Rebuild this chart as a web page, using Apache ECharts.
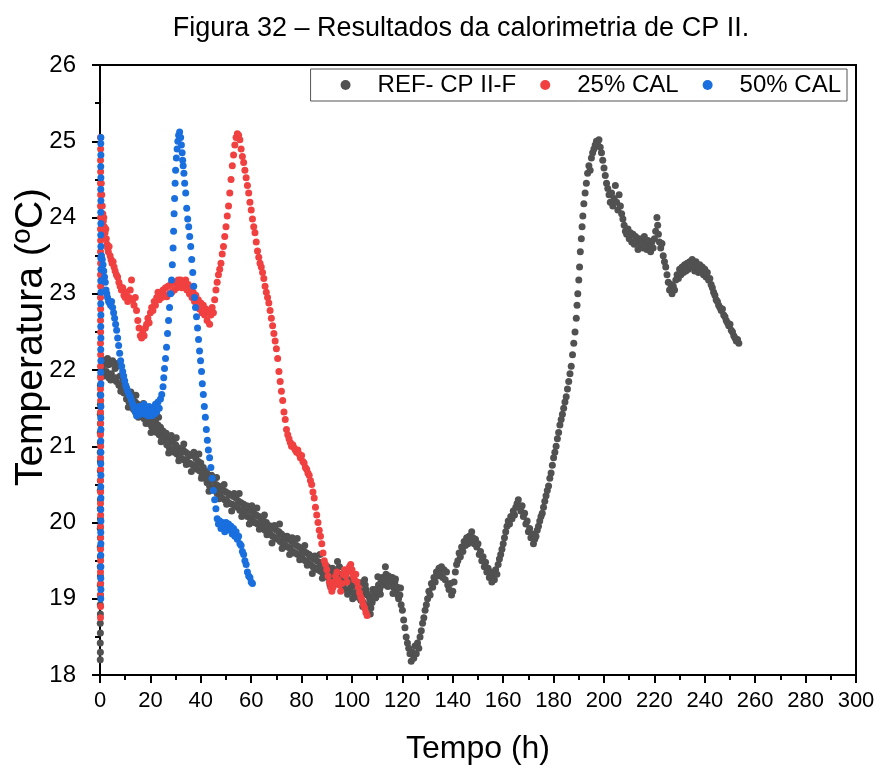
<!DOCTYPE html>
<html>
<head>
<meta charset="utf-8">
<script src="https://cdn.jsdelivr.net/npm/echarts@6/dist/echarts.min.js"></script>
<style>
  html, body { margin: 0; padding: 0; background: #fff; }
  #chart { width: 882px; height: 769px; }
</style>
</head>
<body>
<div id="chart"></div>
<script>
// Calorimetry curves: time (h) vs. temperature (ºC)
const seriesNames = ['REF- CP II-F', '25% CAL', '50% CAL'];
const xTicks = { min: 0, max: 300, step: 20 };
const yTicks = { min: 18, max: 26, step: 1 };

// REF- CP II-F: fast warm-up at the start of logging
const refOnset = [
  [0.1,18.2],[0.15,18.3],[0.1,18.42],[0.15,18.55],[0.1,18.68],[0.15,18.8],[0.1,18.92],[0.15,19.05],
  [0.1,19.18],[0.15,19.3],[0.1,19.42],[0.15,19.55],[0.1,19.68],[0.15,19.8],[0.1,19.92],[0.15,20.05],
  [0.1,20.18],[0.15,20.3],[0.1,20.42],[0.15,20.55],[0.1,20.68],[0.15,20.8],[0.1,20.92],[0.15,21.05],
  [0.1,21.18],[0.15,21.3],[0.1,21.42],[0.15,21.55],[0.1,21.68],[0.15,21.8],[0.3,21.92],[0.6,22.02]
];
// REF- CP II-F: slow cooling, then the late hydration peak
const refRun = [
  [1.0,22.05],[1.5,21.92],[2.0,22.12],[2.5,21.98],[3.0,22.15],[3.5,21.9],[4.0,22.08],[4.5,21.95],[5.0,22.12],[5.5,21.88],
  [6.0,22.02],[6.5,21.85],[7.0,22.05],[7.5,21.8],[8.0,21.92],[8.5,21.75],[9.0,21.85],[9.5,21.7],[10.0,21.78],[10.5,21.62],
  [11.0,21.72],[11.5,21.58],[12.0,21.66],[12.5,21.52],[13.0,21.62],[13.5,21.48],[14.0,21.58],[14.5,21.45],[15.0,21.55],[15.5,21.42],
  [16.0,21.52],[16.5,21.4],[17.0,21.48],[17.5,21.36],[18.0,21.46],[18.5,21.33],[19.0,21.42],[19.5,21.3],[20.0,21.4],[20.5,21.26],
  [21.0,21.36],[21.5,21.22],[22.0,21.32],[22.5,21.18],[23.0,21.28],[23.5,21.15],[24.0,21.25],[24.5,21.1],[25.0,21.2],[25.5,21.08],
  [26.0,21.16],[26.5,21.02],[27.0,21.12],[27.5,20.98],[28.0,21.08],[28.5,20.95],[29.0,21.05],[29.5,20.92],[30.0,21.02],[30.5,20.9],
  [31.0,20.98],[31.5,20.86],[32.0,20.95],[32.5,20.84],[33.0,20.95],[33.5,20.82],[34.0,20.92],[34.5,20.8],[35.0,20.9],[35.5,20.78],
  [36.0,20.88],[36.5,20.76],[37.0,20.9],[37.5,20.74],[38.0,20.84],[38.5,20.7],[39.0,20.8],[39.5,20.68],[40.0,20.78],[40.5,20.62],
  [41.0,20.72],[41.5,20.58],[42.0,20.66],[42.5,20.52],[43.0,20.62],[43.5,20.48],[44.0,20.56],[44.5,20.45],[45.0,20.55],[45.5,20.42],
  [46.0,20.5],[46.5,20.38],[47.0,20.48],[47.5,20.36],[48.0,20.45],[48.5,20.32],[49.0,20.42],[49.5,20.3],[50.0,20.4],[50.5,20.28],
  [51.0,20.38],[51.5,20.25],[52.0,20.36],[52.5,20.24],[53.0,20.34],[53.5,20.22],[54.0,20.32],[54.5,20.2],[55.0,20.28],[55.5,20.16],
  [56.0,20.26],[56.5,20.14],[57.0,20.24],[57.5,20.12],[58.0,20.2],[58.5,20.08],[59.0,20.18],[59.5,20.06],[60.0,20.15],[60.5,20.04],
  [61.0,20.12],[61.5,20.0],[62.0,20.1],[62.5,19.98],[63.0,20.08],[63.5,19.96],[64.0,20.05],[64.5,19.94],[65.0,20.02],[65.5,19.9],
  [66.0,20.0],[66.5,19.88],[67.0,19.96],[67.5,19.85],[68.0,19.95],[68.5,19.82],[69.0,19.92],[69.5,19.8],[70.0,19.9],[70.5,19.78],
  [71.0,19.88],[71.5,19.75],[72.0,19.85],[72.5,19.72],[73.0,19.82],[73.5,19.7],[74.0,19.8],[74.5,19.68],[75.0,19.78],[75.5,19.66],
  [76.0,19.75],[76.5,19.62],[77.0,19.72],[77.5,19.6],[78.0,19.7],[78.5,19.58],[79.0,19.68],[79.5,19.55],[80.0,19.65],[80.5,19.52],
  [81.0,19.62],[81.5,19.5],[82.0,19.6],[82.5,19.48],[83.0,19.58],[83.5,19.45],[84.0,19.55],[84.5,19.42],[85.0,19.52],[85.5,19.4],
  [86.0,19.5],[86.5,19.38],[87.0,19.48],[87.5,19.36],[88.0,19.45],[88.5,19.33],[89.0,19.42],[89.5,19.3],[90.0,19.4],[90.5,19.28],
  [91.0,19.38],[91.5,19.25],[92.0,19.35],[92.5,19.22],[93.0,19.32],[93.5,19.2],[94.0,19.38],[94.5,19.3],[95.0,19.42],[95.5,19.25],
  [96.0,19.32],[96.5,19.18],[97.0,19.28],[97.5,19.12],[98.0,19.22],[98.5,19.1],[99.0,19.25],[99.5,19.15],[100.0,19.22],[100.5,19.08],
  [101.0,19.18],[101.5,19.05],[102.0,19.15],[102.5,19.02],[103.0,19.12],[103.5,18.98],[104.0,19.08],[104.5,18.95],[105.0,19.25],[105.5,19.12],
  [106.0,19.05],[106.5,18.92],[107.0,19.0],[107.5,18.88],[108.0,18.95],[108.5,19.05],[109.0,19.12],[109.5,19.02],[110.0,19.1],[110.5,19.18],
  [111.0,19.12],[111.5,19.22],[112.0,19.28],[112.5,19.18],[113.0,19.25],[113.5,19.32],[114.0,19.22],[114.5,19.3],[115.0,19.25],[115.5,19.18],
  [116.0,19.28],[116.5,19.15],[117.0,19.22],[117.5,19.1],[118.0,19.15],[118.5,19.0],[119.0,19.05],[119.5,18.92],[120.0,18.85],[120.5,18.72],
  [121.0,18.62],[121.5,18.5],[122.0,18.42],[122.5,18.35],[123.0,18.28],[123.5,18.18],[124.0,18.3],[124.5,18.22],[125.0,18.38],[125.5,18.28],
  [126.0,18.42],[126.5,18.35],[127.0,18.5],[127.5,18.58],[128.0,18.68],[128.5,18.75],[129.0,18.85],[129.5,18.92],[130.0,19.0],[130.5,19.1],
  [131.0,19.05],[131.5,19.2],[132.0,19.15],[132.5,19.28],[133.0,19.22],[133.5,19.35],[134.0,19.3],[134.5,19.4],[135.0,19.32],[135.5,19.42],
  [136.0,19.28],[136.5,19.38],[137.0,19.25],[137.5,19.35],[138.0,19.18],[138.5,19.12],[139.0,19.2],[139.5,19.05],[140.0,19.1],[140.5,19.22],
  [141.0,19.35],[141.5,19.45],[142.0,19.5],[142.5,19.6],[143.0,19.55],[143.5,19.68],[144.0,19.62],[144.5,19.75],[145.0,19.7],[145.5,19.8],
  [146.0,19.72],[146.5,19.82],[147.0,19.75],[147.5,19.88],[148.0,19.8],[148.5,19.72],[149.0,19.78],[149.5,19.68],[150.0,19.72],[150.5,19.58],
  [151.0,19.62],[151.5,19.5],[152.0,19.55],[152.5,19.42],[153.0,19.48],[153.5,19.35],[154.0,19.4],[154.5,19.28],[155.0,19.35],[155.5,19.22],
  [156.0,19.3],[156.5,19.25],[157.0,19.38],[157.5,19.32],[158.0,19.45],[158.5,19.52],[159.0,19.58],[159.5,19.65],[160.0,19.72],[160.5,19.8],
  [161.0,19.88],[161.5,19.95],[162.0,20.02],[162.5,19.98],[163.0,20.08],[163.5,20.05],[164.0,20.15],[164.5,20.1],[165.0,20.2],[165.5,20.25],
  [166.0,20.3],[166.5,20.2],[167.0,20.15],[167.5,20.22],[168.0,20.08],[168.5,20.12],[169.0,19.98],[169.5,20.02],[170.0,19.88],[170.5,19.92],
  [171.0,19.8],[171.5,19.85],[172.0,19.72],[172.5,19.78],[173.0,19.82],[173.5,19.9],[174.0,19.95],[174.5,20.02],[175.0,20.08],[175.5,20.12],
  [176.0,20.2],[176.5,20.28],[177.0,20.35],[177.5,20.42],[178.0,20.48],[178.5,20.58],[179.0,20.65],[179.5,20.75],[180.0,20.85],[180.5,20.92],
  [181.0,21.0],[181.5,21.1],[182.0,21.18],[182.5,21.28],[183.0,21.35],[183.5,21.42],[184.0,21.5],[184.5,21.58],[185.0,21.65],[185.5,21.75],
  [186.0,21.85],[186.5,21.95],[187.0,22.05],[187.5,22.2],[188.0,22.35],[188.5,22.5],[189.0,22.68],[189.3,22.85],[189.6,23.0],[190.0,23.18],
  [190.3,23.35],[190.6,23.55],[191.0,23.72],[191.3,23.88],[191.6,24.02],[192.0,24.18],[192.5,24.32],[193.0,24.45],[193.5,24.58],[194.0,24.68],
  [194.5,24.62],[195.0,24.78],[195.5,24.85],[196.0,24.9],[196.5,24.95],[197.0,25.0],[197.5,24.95],[198.0,25.02],[198.5,24.92],[199.0,24.85],
  [199.5,24.75],[200.0,24.65],[200.5,24.55],[201.0,24.45],[201.5,24.38],[202.0,24.3],[202.5,24.2],[203.0,24.32],[203.5,24.15],[204.0,24.25],
  [204.5,24.42],[205.0,24.2],[205.5,24.1],[206.0,24.3],[206.5,24.15],[207.0,24.05],[207.5,23.98],[208.0,23.9],[208.5,23.82],[209.0,23.78],
  [209.5,23.85],[210.0,23.72],[210.5,23.8],[211.0,23.68],[211.5,23.78],[212.0,23.65],[212.5,23.75],[213.0,23.68],[213.5,23.58],[214.0,23.72],
  [214.5,23.62],[215.0,23.7],[215.5,23.6],[216.0,23.75],[216.5,23.65],[217.0,23.58],[217.5,23.7],[218.0,23.62],[218.5,23.55],[219.0,23.68],
  [219.5,23.6],[220.0,23.72],[220.5,23.82],[221.0,24.0],[221.3,23.9],[221.6,23.78],[222.0,23.68],[222.5,23.6],[223.0,23.66],[223.5,23.5],
  [224.0,23.42],[224.5,23.35],[225.0,23.25],[225.5,23.15],[226.0,23.05],[226.5,23.12],[227.0,23.0],[227.5,23.1],[228.0,23.05],[228.5,23.18],
  [229.0,23.25],[229.5,23.2],[230.0,23.32],[230.5,23.25],[231.0,23.35],[231.5,23.28],[232.0,23.38],[232.5,23.3],[233.0,23.4],[233.5,23.32],
  [234.0,23.42],[234.5,23.35],[235.0,23.45],[235.5,23.38],[236.0,23.3],[236.5,23.42],[237.0,23.35],[237.5,23.28],[238.0,23.38],[238.5,23.3],
  [239.0,23.35],[239.5,23.25],[240.0,23.32],[240.5,23.22],[241.0,23.28],[241.5,23.18],[242.0,23.2],[242.5,23.12],[243.0,23.08],[243.5,23.02],
  [244.0,22.98],[244.5,22.92],[245.0,22.9],[245.5,22.85],[246.0,22.82],[246.5,22.78],[247.0,22.8],[247.5,22.72],[248.0,22.7],[248.5,22.65],
  [249.0,22.62],[249.5,22.58],[250.0,22.6],[250.5,22.52],[251.0,22.5],[251.5,22.45],[252.0,22.42],[252.5,22.38],[253.0,22.4],[253.5,22.35]
];
// REF- CP II-F: additional readings scattered across the cooling band
const refSpread = [
  [1.25,22.13],[2.25,21.95],[3.25,22.07],[4.25,21.87],[5.25,22.1],[6.25,21.9],[7.25,22.09],[8.25,21.72],[9.25,21.78],[10.25,21.78],
  [11.25,21.51],[12.25,21.71],[13.25,21.49],[14.25,21.67],[15.25,21.38],[16.25,21.48],[17.25,21.56],[18.25,21.3],[19.25,21.4],[20.25,21.18],
  [21.25,21.39],[22.25,21.21],[23.25,21.38],[24.25,21.06],[25.25,21.14],[26.25,21.17],[27.25,20.91],[28.25,21.14],[29.25,20.93],[30.25,21.11],
  [31.25,20.81],[32.25,20.92],[33.25,21.03],[34.25,20.76],[35.25,20.88],[36.25,20.67],[37.25,20.92],[38.25,20.73],[39.25,20.9],[40.25,20.58],
  [41.25,20.65],[42.25,20.67],[43.25,20.41],[44.25,20.62],[45.25,20.43],[46.25,20.59],[47.25,20.31],[48.25,20.41],[49.25,20.5],[50.25,20.24],
  [51.25,20.36],[52.25,20.15],[53.25,20.38],[54.25,20.22],[55.25,20.38],[56.25,20.08],[57.25,20.18],[58.25,20.22],[59.25,19.98],[60.25,20.22],
  [61.25,20.0],[62.25,20.19],[63.25,19.91],[64.25,20.02],[65.25,20.1],[66.25,19.84],[67.25,19.94],[68.25,19.73],[69.25,19.96],[70.25,19.8],
  [71.25,19.98],[72.25,19.66],[73.25,19.76],[74.25,19.82],[75.25,19.58],[76.25,19.8],[77.25,19.6],[78.25,19.79],[79.25,19.51],[80.25,19.6],
  [81.25,19.7],[82.25,19.44],[83.25,19.56],[84.25,19.33],[85.25,19.56],[86.25,19.4],[87.25,19.58],[88.25,19.27],[89.25,19.36],[90.25,19.42],
  [91.25,19.18],[92.25,19.4],[93.25,19.2],[94.25,19.49],[95.25,19.23],[96.25,19.27],[97.25,19.34],[98.25,19.06],[99.25,19.24],[100.25,19.0],
  [101.25,19.22],[102.25,19.04],[103.25,19.21],[104.25,18.9],[105.25,19.18],[106.25,19.06],[107.25,18.8],[108.25,19.12],[109.25,19.01],[110.25,19.29],
  [111.25,19.06],[112.25,19.25],[113.25,19.42],[114.25,19.16],[115.25,19.26],[116.25,19.07],[117.25,19.26],[118.25,19.04],[119.25,19.14]
];

// 25% CAL
const cal25Onset = [
  [0.2,18.75],[0.25,18.9],[0.2,19.05],[0.25,19.2],[0.2,19.35],[0.25,19.5],[0.2,19.65],[0.25,19.8],[0.2,19.95],[0.25,20.1],
  [0.2,20.25],[0.25,20.4],[0.2,20.55],[0.25,20.7],[0.2,20.85],[0.25,21.0],[0.2,21.15],[0.25,21.3],[0.2,21.45],[0.25,21.6],
  [0.2,21.75],[0.25,21.9],[0.2,22.05],[0.25,22.2],[0.2,22.35],[0.25,22.5],[0.2,22.65],[0.25,22.8],[0.2,22.95],[0.25,23.1],
  [0.2,23.25],[0.25,23.4],[0.2,23.55],[0.25,23.7],[0.2,23.85],[0.25,24.0],[0.2,24.15],[0.25,24.3],[0.2,24.45],[0.25,24.6],
  [0.2,24.75],[0.25,24.9],[0.2,25.05]
];
const cal25Run = [
  [0.5,24.45],[0.7,24.3],[0.9,24.15],[1.1,24.05],[1.3,23.95],[1.5,24.0],[1.7,23.88],[2.0,23.8],[2.3,23.85],[2.5,23.72],
  [2.8,23.65],[3.0,23.6],[3.3,23.55],[3.6,23.62],[4.0,23.5],[4.4,23.45],[4.8,23.4],[5.2,23.42],[5.6,23.35],[6.0,23.3],
  [6.5,23.25],[7.0,23.22],[7.5,23.15],[8.0,23.1],[8.5,23.05],[9.0,23.08],[9.5,22.98],[10.0,22.95],[10.5,23.02],[11.0,22.9],
  [11.5,22.95],[12.0,23.05],[12.5,23.18],[13.0,22.92],[13.5,22.85],[14.0,22.95],[14.5,22.78],[15.0,22.65],[15.5,22.55],[16.0,22.45],
  [16.5,22.42],[17.0,22.5],[17.5,22.45],[18.0,22.55],[18.5,22.6],[19.0,22.68],[19.5,22.62],[20.0,22.75],[20.5,22.82],[21.0,22.78],
  [21.5,22.9],[22.0,22.85],[22.5,22.95],[23.0,23.02],[23.5,22.92],[24.0,23.0],[24.5,22.95],[25.0,23.05],[25.5,22.98],[26.0,23.08],
  [26.5,22.96],[27.0,23.1],[27.5,23.0],[28.0,23.12],[28.5,23.02],[29.0,23.15],[29.5,23.05],[30.0,23.15],[30.5,23.08],[31.0,23.18],
  [31.5,23.1],[32.0,23.18],[32.5,23.08],[33.0,23.16],[33.5,23.1],[34.0,23.18],[34.5,23.05],[35.0,23.12],[35.5,23.0],[36.0,23.05],
  [36.5,22.95],[37.0,23.02],[37.5,22.9],[38.0,22.98],[38.5,22.85],[39.0,22.92],[39.5,22.8],[40.0,22.88],[40.5,22.75],[41.0,22.85],
  [41.5,22.72],[42.0,22.8],[42.5,22.65],[43.0,22.75],[43.5,22.6],[44.0,22.72],[44.5,22.82],[45.0,22.75],[45.5,22.92],[46.0,23.05],
  [46.5,23.15],[47.0,23.25],[47.5,23.32],[48.0,23.4],[48.5,23.52],[49.0,23.62],[49.5,23.75],[50.0,23.88],[50.5,24.02],[51.0,24.15],
  [51.5,24.32],[52.0,24.5],[52.5,24.68],[53.0,24.82],[53.5,24.95],[54.0,25.05],[54.5,25.1],[55.0,25.08],[55.5,25.02],[56.0,24.9],
  [56.5,24.8],[57.0,24.72],[57.5,24.62],[58.0,24.52],[58.5,24.42],[59.0,24.32],[59.5,24.2],[60.0,24.1],[60.5,23.98],[61.0,23.88],
  [61.5,23.8],[62.0,23.68],[62.5,23.56],[63.0,23.48],[63.5,23.4],[64.0,23.35],[64.5,23.28],[65.0,23.2],[65.5,23.1],[66.0,23.02],
  [66.5,22.95],[67.0,22.88],[67.5,22.78],[68.0,22.68],[68.5,22.58],[69.0,22.48],[69.5,22.38],[70.0,22.28],[70.5,22.15],[71.0,21.98],
  [71.5,21.85],[72.0,21.72],[72.5,21.6],[73.0,21.45],[73.5,21.35],[74.0,21.22],[74.5,21.15],[75.0,21.1],[75.5,21.05],[76.0,21.0],
  [76.5,21.02],[77.0,20.98],[77.5,20.95],[78.0,20.92],[78.5,20.95],[79.0,20.9],[79.5,20.85],[80.0,20.88],[80.5,20.8],[81.0,20.78],
  [81.5,20.72],[82.0,20.7],[82.5,20.65],[83.0,20.62],[83.5,20.55],[84.0,20.5],[84.5,20.4],[85.0,20.32],[85.5,20.2],[86.0,20.1],
  [86.5,20.0],[87.0,19.9],[87.5,19.82],[88.0,19.72],[88.5,19.6],[89.0,19.5],[89.5,19.45],[90.0,19.38],[90.5,19.3],[91.0,19.22],
  [91.5,19.15],[92.0,19.1],[92.5,19.15],[93.0,19.22],[93.5,19.3],[94.0,19.35],[94.5,19.25],[95.0,19.18],[95.5,19.1],[96.0,19.2],
  [96.5,19.32],[97.0,19.38],[97.5,19.3],[98.0,19.22],[98.5,19.35],[99.0,19.42],[99.5,19.45],[100.0,19.38],[100.5,19.3],[101.0,19.25],
  [101.5,19.32],[102.0,19.22],[102.5,19.15],[103.0,19.08],[103.5,19.02],[104.0,18.98],[104.5,18.92],[105.0,18.88],[105.5,18.82],[106.0,18.78]
];

// 50% CAL
const cal50Onset = [
  [0.3,19.0],[0.35,19.12],[0.3,19.27],[0.35,19.42],[0.3,19.57],[0.35,19.72],[0.3,19.87],[0.35,20.02],[0.3,20.17],[0.35,20.32],
  [0.3,20.47],[0.35,20.62],[0.3,20.77],[0.35,20.92],[0.3,21.07],[0.35,21.22],[0.3,21.37],[0.35,21.52],[0.3,21.67],[0.35,21.82],
  [0.3,21.97],[0.35,22.12],[0.3,22.27],[0.35,22.42],[0.3,22.57],[0.35,22.72],[0.3,22.87],[0.35,23.02],[0.3,23.17],[0.35,23.32],
  [0.3,23.47],[0.35,23.62],[0.3,23.77],[0.35,23.92],[0.3,24.07],[0.35,24.22],[0.3,24.37],[0.35,24.52],[0.3,24.67],[0.35,24.82],
  [0.3,24.97],[0.35,25.05]
];
const cal50Run = [
  [0.6,23.5],[0.9,23.45],[1.2,23.38],[1.5,23.3],[1.8,23.22],[2.1,23.15],[2.4,23.05],[2.7,23.0],[3.0,22.95],[3.4,22.9],
  [3.8,22.88],[4.2,22.85],[4.6,22.9],[5.0,22.82],[5.4,22.75],[5.8,22.68],[6.2,22.6],[6.6,22.52],[7.0,22.42],[7.4,22.32],
  [7.8,22.22],[8.2,22.12],[8.6,22.05],[9.0,21.98],[9.4,21.92],[9.8,21.86],[10.2,21.8],[10.6,21.76],[11.0,21.72],[11.5,21.68],
  [12.0,21.65],[12.5,21.6],[13.0,21.55],[13.5,21.5],[14.0,21.45],[14.5,21.4],[15.0,21.45],[15.5,21.52],[16.0,21.42],[16.5,21.5],
  [17.0,21.45],[17.5,21.55],[18.0,21.42],[18.5,21.48],[19.0,21.4],[19.5,21.52],[20.0,21.45],[20.5,21.4],[21.0,21.5],[21.5,21.42],
  [22.0,21.55],[22.5,21.45],[23.0,21.58],[23.5,21.5],[24.0,21.62],[24.5,21.68],[25.0,21.78],[25.3,21.9],[25.6,22.02],[26.0,22.15],
  [26.4,22.3],[26.8,22.48],[27.2,22.65],[27.6,22.82],[28.0,23.0],[28.4,23.18],[28.7,23.38],[29.0,23.6],[29.2,23.82],[29.4,24.05],
  [29.6,24.25],[29.8,24.45],[30.0,24.62],[30.3,24.78],[30.6,24.9],[30.9,25.0],[31.2,25.08],[31.6,25.12],[32.0,25.05],[32.3,24.95],
  [32.6,24.85],[32.8,24.75],[33.0,24.68],[33.3,24.58],[33.6,24.45],[34.0,24.32],[34.4,24.12],[34.8,23.98],[35.2,23.88],[35.6,23.75],
  [36.0,23.62],[36.4,23.45],[36.8,23.28],[37.2,23.1],[37.5,22.95],[37.9,22.82],[38.3,22.7],[38.7,22.55],[39.1,22.4],[39.5,22.25],
  [39.9,22.12],[40.3,21.98],[40.6,21.82],[41.0,21.68],[41.4,21.52],[41.8,21.38],[42.2,21.22],[42.6,21.08],[43.0,20.95],[43.5,20.85],
  [44.0,20.72],[44.5,20.58],[45.0,20.42],[45.5,20.3],[46.0,20.18],[46.5,20.05],[47.0,19.98],[47.5,20.02],[48.0,19.92],[48.5,20.0],
  [49.0,19.95],[49.5,19.88],[50.0,20.0],[50.5,19.92],[51.0,19.98],[51.5,19.9],[52.0,19.95],[52.5,19.85],[53.0,19.92],[53.5,19.82],
  [54.0,19.88],[54.5,19.78],[55.0,19.82],[55.5,19.72],[56.0,19.7],[56.5,19.62],[57.0,19.58],[57.5,19.5],[58.0,19.45],[58.5,19.35],
  [59.0,19.3],[59.5,19.28],[60.0,19.22],[60.5,19.2]
];

const colors = ['#515151', '#F14040', '#1A6FDF'];
const sans = "'Liberation Sans', Arial, Helvetica, sans-serif";

const chart = echarts.init(document.getElementById('chart'), null, { renderer: 'canvas' });

const axisLine = { show: true, lineStyle: { color: '#000', width: 2 } };
const majorTick = { show: true, inside: false, length: 8, lineStyle: { color: '#000', width: 2 } };
const minorTick = { show: true, splitNumber: 2, length: 5, lineStyle: { color: '#000', width: 2 } };

chart.setOption({
  animation: false,
  backgroundColor: '#fff',
  title: {
    text: 'Figura 32 – Resultados da calorimetria de CP II.',
    left: 456,
    top: 10,
    textAlign: 'center',
    textStyle: { fontFamily: sans, fontSize: 27, fontWeight: 'normal', color: '#000' }
  },
  legend: {
    data: seriesNames,
    top: 69,
    right: 35,
    icon: 'circle',
    itemWidth: 54,
    itemHeight: 10,
    itemGap: 24,
    padding: [4, 6, 4, 30],
    borderColor: '#555',
    borderWidth: 1,
    textStyle: { fontFamily: sans, fontSize: 24, color: '#000' }
  },
  grid: {
    left: 100, right: 26, top: 65, bottom: 94,
    outerBoundsMode: 'none',
    containLabel: false,
    show: true, borderColor: '#000', borderWidth: 2, backgroundColor: 'transparent'
  },
  xAxis: {
    type: 'value',
    min: xTicks.min, max: xTicks.max, interval: xTicks.step,
    name: 'Tempo (h)',
    nameLocation: 'middle',
    nameGap: 58,
    nameMoveOverlap: false,
    nameTextStyle: { fontFamily: sans, fontSize: 32, color: '#000' },
    axisLine: axisLine,
    axisTick: majorTick,
    minorTick: minorTick,
    splitLine: { show: false },
    axisLabel: { fontFamily: sans, fontSize: 22, color: '#000', margin: 15 }
  },
  yAxis: {
    type: 'value',
    min: yTicks.min, max: yTicks.max, interval: yTicks.step,
    name: 'Temperatura (ºC)',
    nameLocation: 'middle',
    nameGap: 49,
    nameMoveOverlap: false,
    nameTextStyle: { fontFamily: sans, fontSize: 39, color: '#000', padding: [0, 0, 0, 66] },
    axisLine: axisLine,
    axisTick: majorTick,
    minorTick: minorTick,
    splitLine: { show: false },
    axisLabel: { fontFamily: sans, fontSize: 24, color: '#000', margin: 24 }
  },
  series: [
    { name: seriesNames[0], type: 'scatter', symbolSize: 7, itemStyle: { color: colors[0], opacity: 1 },
      data: refOnset.concat(refRun, refSpread), z: 2 },
    { name: seriesNames[1], type: 'scatter', symbolSize: 7, itemStyle: { color: colors[1], opacity: 1 },
      data: cal25Onset.concat(cal25Run), z: 3 },
    { name: seriesNames[2], type: 'scatter', symbolSize: 7, itemStyle: { color: colors[2], opacity: 1 },
      data: cal50Onset.concat(cal50Run), z: 4 }
  ]
});
</script>
</body>
</html>
